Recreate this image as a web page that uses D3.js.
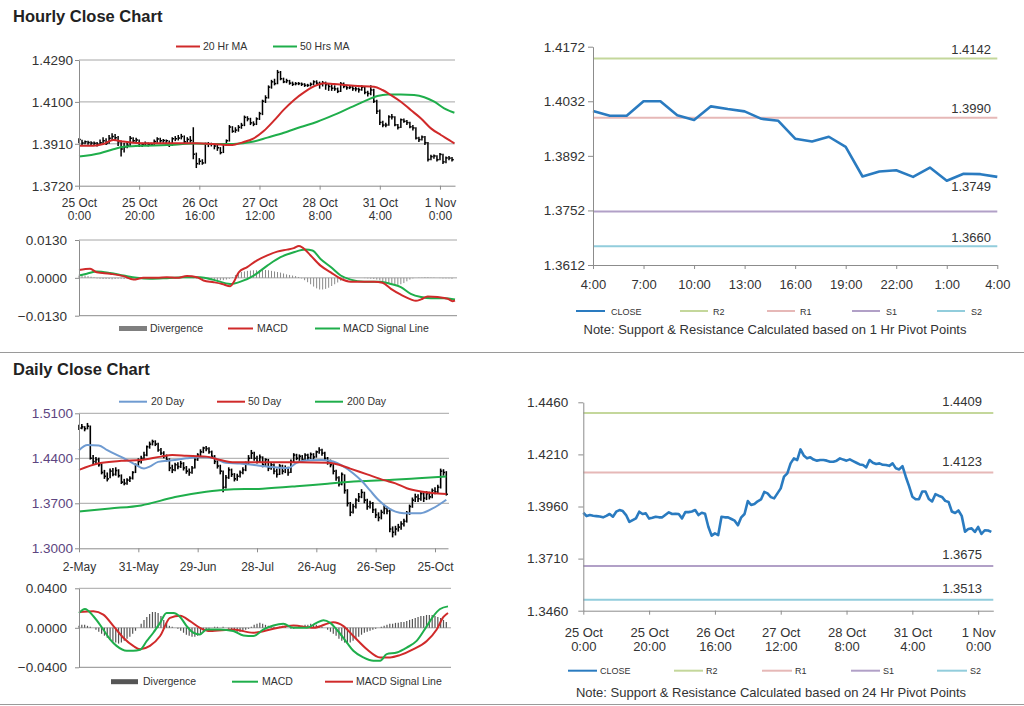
<!DOCTYPE html>
<html><head><meta charset="utf-8">
<script src="https://cdn.jsdelivr.net/npm/d3@7"></script>
<style>
body{margin:0;background:#fff;}
svg{display:block;}
</style></head><body>
<svg id="c" width="1024" height="706"></svg>
<script>
// ---------------- DATA ----------------
// Hourly bars, 25 Oct 0:00 .. 1 Nov 4:00 (index = trading hour)
const hourlyTickIdx = [0,20,40,60,80,100,120];
const hourlyTickLabels = [["25 Oct","0:00"],["25 Oct","20:00"],["26 Oct","16:00"],["27 Oct","12:00"],["28 Oct","8:00"],["31 Oct","4:00"],["1 Nov","0:00"]];
const hourlyClose = [1.3930,1.3914,1.3919,1.3916,1.3914,1.3912,1.3908,1.3915,1.3924,1.3911,
1.3935,1.3943,1.3938,1.3919,1.3886,1.3895,1.3903,1.3935,1.3924,1.3927,
1.3902,1.3906,1.3911,1.3908,1.3908,1.3920,1.3932,1.3924,1.3925,1.3924,
1.3903,1.3933,1.3933,1.3936,1.3943,1.3919,1.3930,1.3925,1.3863,1.3820,
1.3831,1.3823,1.3911,1.3908,1.3908,1.3900,1.3892,1.3870,1.3908,1.3924,
1.3986,1.3967,1.3972,1.3985,1.3994,1.4030,1.4023,1.4005,1.3999,1.4023,
1.4047,1.4103,1.4119,1.4167,1.4191,1.4183,1.4234,1.4205,1.4191,1.4196,
1.4185,1.4180,1.4183,1.4183,1.4180,1.4175,1.4175,1.4180,1.4191,1.4185,
1.4180,1.4186,1.4178,1.4170,1.4162,1.4159,1.4148,1.4183,1.4170,1.4164,
1.4167,1.4160,1.4159,1.4155,1.4167,1.4143,1.4138,1.4154,1.4103,1.4058,
1.4007,1.3995,1.3995,1.4032,1.4032,1.3996,1.3984,1.4019,1.4012,1.4006,
1.3987,1.3982,1.3936,1.3929,1.3941,1.3915,1.3839,1.3852,1.3855,1.3838,
1.3862,1.3828,1.3846,1.3845,1.3838];
const hourlyHigh = [1.3935,1.3928,1.3925,1.3924,1.3922,1.3920,1.3918,1.3930,1.3940,1.3935,
1.3950,1.3958,1.3955,1.3945,1.3925,1.3915,1.3920,1.3945,1.3940,1.3938,
1.3930,1.3915,1.3920,1.3916,1.3915,1.3930,1.3940,1.3938,1.3932,1.3930,
1.3925,1.3940,1.3945,1.3950,1.3955,1.3948,1.3940,1.3945,1.3985,1.3870,
1.3845,1.3840,1.3915,1.3918,1.3915,1.3912,1.3905,1.3895,1.3912,1.3930,
1.3995,1.3990,1.3985,1.3995,1.4005,1.4038,1.4035,1.4028,1.4012,1.4030,
1.4055,1.4110,1.4130,1.4175,1.4200,1.4205,1.4245,1.4240,1.4210,1.4205,
1.4200,1.4192,1.4190,1.4190,1.4188,1.4185,1.4182,1.4188,1.4198,1.4198,
1.4192,1.4195,1.4192,1.4185,1.4180,1.4175,1.4165,1.4190,1.4188,1.4178,
1.4175,1.4172,1.4168,1.4165,1.4175,1.4170,1.4150,1.4175,1.4160,1.4110,
1.4065,1.4015,1.4005,1.4040,1.4045,1.4035,1.4000,1.4025,1.4025,1.4018,
1.4010,1.3995,1.3985,1.3942,1.3948,1.3945,1.3918,1.3860,1.3862,1.3858,
1.3868,1.3865,1.3852,1.3855,1.3850];
const hourlyLow = [1.3912,1.3905,1.3908,1.3906,1.3902,1.3900,1.3898,1.3904,1.3908,1.3905,
1.3910,1.3928,1.3925,1.3900,1.3852,1.3870,1.3890,1.3900,1.3915,1.3912,
1.3895,1.3896,1.3900,1.3898,1.3900,1.3905,1.3915,1.3915,1.3915,1.3905,
1.3895,1.3900,1.3922,1.3925,1.3930,1.3912,1.3915,1.3915,1.3840,1.3800,
1.3815,1.3815,1.3820,1.3895,1.3898,1.3885,1.3878,1.3862,1.3868,1.3900,
1.3920,1.3960,1.3960,1.3965,1.3978,1.3990,1.4012,1.3995,1.3990,1.3995,
1.4018,1.4040,1.4095,1.4115,1.4160,1.4175,1.4180,1.4198,1.4185,1.4185,
1.4178,1.4172,1.4175,1.4176,1.4172,1.4168,1.4168,1.4170,1.4175,1.4178,
1.4160,1.4170,1.4155,1.4150,1.4150,1.4150,1.4140,1.4145,1.4162,1.4155,
1.4158,1.4150,1.4148,1.4142,1.4150,1.4135,1.4125,1.4130,1.4095,1.4045,
1.3995,1.3985,1.3985,1.3992,1.4020,1.3990,1.3975,1.3982,1.4005,1.3995,
1.3980,1.3970,1.3930,1.3918,1.3925,1.3905,1.3830,1.3835,1.3842,1.3830,
1.3835,1.3818,1.3822,1.3835,1.3830];
const hourlyMA20 = [[0,1.3901],[4.8,1.3901],[8.1,1.3909],[11.4,1.3927],[14.8,1.3920],[18.1,1.3915],[23.7,1.3912],[39.2,1.3912],[44.8,1.3909],[50.3,1.3904],[54.8,1.3918],[58.1,1.3935],[61.4,1.3968],[64.8,1.4015],[68.1,1.4065],[71.4,1.4108],[74.8,1.4143],[78.1,1.4170],[81.4,1.4185],[84.8,1.4181],[88.1,1.4177],[91.4,1.4173],[98.1,1.4169],[100.9,1.4154],[103.7,1.4131],[107,1.4101],[110.3,1.4063],[113.7,1.4025],[117,1.3980],[120.3,1.3950],[123.1,1.3927],[124.8,1.3912]];
const hourlyMA50 = [[0,1.3852],[7,1.3867],[11.4,1.3885],[14.8,1.3897],[20.3,1.3901],[29.2,1.3904],[38.1,1.3911],[44.8,1.3909],[51.4,1.3909],[58.1,1.3920],[62.6,1.3938],[68.1,1.3960],[73.7,1.3986],[79.2,1.4010],[84.8,1.4041],[90.3,1.4075],[95.9,1.4109],[99.2,1.4127],[102.6,1.4134],[107,1.4134],[111.4,1.4131],[114.8,1.4121],[118.1,1.4101],[121.4,1.4071],[124.8,1.4051]];
const hourlyPriceTicks = [1.3720,1.3910,1.4100,1.4290];
// Hourly MACD panel
const hourlyMacdTicks = [-0.0130,0.0000,0.0130];
const hourlyMacd = [[0,0.0027],[3.7,0.0031],[5.9,0.0019],[10.3,0.0014],[14.8,0.0006],[18.1,-0.0006],[21.4,0],[25.9,0],[29.2,0.0002],[32.6,0],[35.9,0.0006],[39.2,0.0002],[41.4,-0.0009],[44.8,-0.0015],[47.6,-0.0021],[50.3,-0.0029],[51.4,-0.0015],[53.1,0.0019],[55.9,0.0037],[59.2,0.0060],[62.6,0.0077],[65.9,0.0090],[69.2,0.0097],[71.4,0.0102],[73.1,0.0109],[74.2,0.0105],[77,0.0077],[80.3,0.0042],[83.7,0.0019],[87,-0.0003],[90.3,-0.0013],[98.1,-0.0013],[100.9,-0.0017],[103.7,-0.0038],[107,-0.0058],[110.3,-0.0074],[112,-0.0079],[113.7,-0.0074],[115.9,-0.0064],[119.2,-0.0066],[122.6,-0.0072],[124.2,-0.0080],[125,-0.0078]];
const hourlySignal = [[0,0.0008],[2.6,0.0014],[5.9,0.0022],[10.3,0.0017],[14.8,0.0008],[19.2,0],[23.7,-0.0003],[29.2,-0.0001],[34.8,0.0002],[40.3,0.0002],[44.8,-0.0007],[50.3,-0.0021],[53.7,-0.0013],[58.1,0.0008],[62.6,0.0042],[67,0.0071],[71.4,0.0088],[75.3,0.0097],[77.6,0.0094],[80.3,0.0065],[83.7,0.0037],[87,0.0008],[90.3,-0.0006],[94.8,-0.0013],[100.3,-0.0013],[103.7,-0.0021],[107,-0.0032],[110.3,-0.0055],[113.7,-0.0066],[117,-0.0070],[121.4,-0.0070],[125,-0.0074]];
const hourlyDivergence = [0.0008,0.0010,0.0008,0.0006,0.0004,0.0002,
-0.0002,-0.0003,-0.0004,-0.0004,-0.0004,-0.0005,-0.0004,-0.0003,-0.0003,-0.0004,-0.0004,-0.0003,-0.0002,-0.0002,-0.0001,
0,0,0.0001,0,0,0,0.0001,0.0001,0,0,0.0001,0.0001,0,0,0.0001,0.0001,0,-0.0001,-0.0002,-0.0003,-0.0004,-0.0004,-0.0005,-0.0006,-0.0007,
-0.0008,-0.0008,-0.0008,-0.0006,-0.0003,0.0002,0.0010,
0.0016,0.0020,0.0022,0.0024,0.0025,0.0026,0.0026,0.0027,0.0027,0.0027,0.0026,0.0024,0.0022,0.0020,0.0018,0.0015,0.0012,0.0010,0.0008,0.0006,0.0003,
-0.0002,-0.0008,-0.0015,-0.0022,-0.0030,-0.0036,-0.0040,-0.0040,-0.0038,-0.0034,-0.0028,-0.0022,-0.0016,-0.0010,-0.0006,-0.0003,-0.0001,
0,0,0,0,-0.0001,-0.0002,-0.0003,-0.0004,-0.0006,
-0.0008,-0.0012,-0.0016,-0.0020,-0.0023,-0.0024,-0.0024,-0.0022,-0.0018,-0.0012,-0.0006,-0.0002,0,
0.0001,0.0001,0.0002,0.0002,0.0001,0.0001,0,-0.0001,-0.0002,-0.0002,-0.0002,-0.0003];

// Last 24 hours (1 Hr pivots) — uses hourlyClose from index 100
const pivot1hStart = 100;
const pivot1hTicks = [1.3612,1.3752,1.3892,1.4032,1.4172];
const pivot1hTickLabels = ["4:00","7:00","10:00","13:00","16:00","19:00","22:00","1:00","4:00"];
const pivot1hNames = ["R2","R1","S1","S2"];
const pivot1hValues = [1.4142,1.3990,1.3749,1.3660];
// 24 Hr pivots
const pivot24Ticks = [1.3460,1.3710,1.3960,1.4210,1.4460];
const pivot24Names = ["R2","R1","S1","S2"];
const pivot24Values = [1.4409,1.4123,1.3675,1.3513];

// Daily bars, 2 May .. 1 Nov (index = trading day)
const dailyTickIdx = [0,21,42,63,84,105,126];
const dailyTickLabels = ["2-May","31-May","29-Jun","28-Jul","26-Aug","26-Sep","25-Oct"];
const dailyClose = [1.4870,1.4890,1.4860,1.4900,1.4400,1.4350,1.4380,1.4300,1.4180,1.4120,
1.4080,1.4200,1.4150,1.4210,1.4130,1.4030,1.4010,1.4060,1.4090,1.4180,
1.4300,1.4350,1.4400,1.4450,1.4580,1.4620,1.4660,1.4620,1.4530,1.4480,
1.4430,1.4380,1.4250,1.4220,1.4300,1.4270,1.4320,1.4250,1.4200,1.4180,
1.4250,1.4380,1.4450,1.4500,1.4560,1.4550,1.4500,1.4430,1.4350,1.4280,
1.4200,1.3950,1.4100,1.4220,1.4150,1.4080,1.4120,1.4180,1.4220,1.4320,
1.4400,1.4480,1.4400,1.4350,1.4420,1.4300,1.4380,1.4250,1.4300,1.4200,
1.4150,1.4280,1.4200,1.4250,1.4180,1.4350,1.4450,1.4400,1.4430,1.4380,
1.4450,1.4410,1.4460,1.4420,1.4500,1.4530,1.4480,1.4400,1.4350,1.4300,
1.4200,1.4100,1.4000,1.4150,1.3900,1.3700,1.3560,1.3650,1.3750,1.3800,
1.3870,1.3750,1.3650,1.3700,1.3600,1.3520,1.3480,1.3560,1.3620,1.3580,
1.3300,1.3250,1.3300,1.3330,1.3380,1.3420,1.3550,1.3650,1.3750,1.3800,
1.3770,1.3850,1.3780,1.3850,1.3800,1.3900,1.3880,1.3950,1.4200,1.4180,
1.3840];
const dailyHigh = [1.4920,1.4935,1.4900,1.4950,1.4910,1.4450,1.4420,1.4410,1.4320,1.4220,
1.4180,1.4240,1.4250,1.4260,1.4230,1.4150,1.4080,1.4090,1.4120,1.4200,
1.4320,1.4400,1.4440,1.4500,1.4600,1.4660,1.4690,1.4680,1.4640,1.4560,
1.4510,1.4460,1.4400,1.4300,1.4330,1.4340,1.4360,1.4340,1.4280,1.4240,
1.4280,1.4400,1.4480,1.4540,1.4580,1.4590,1.4570,1.4520,1.4450,1.4370,
1.4300,1.4210,1.4140,1.4260,1.4240,1.4170,1.4160,1.4210,1.4260,1.4350,
1.4450,1.4530,1.4500,1.4440,1.4460,1.4430,1.4400,1.4390,1.4340,1.4320,
1.4240,1.4310,1.4300,1.4290,1.4270,1.4380,1.4480,1.4470,1.4460,1.4450,
1.4480,1.4470,1.4490,1.4480,1.4520,1.4570,1.4550,1.4500,1.4420,1.4380,
1.4310,1.4220,1.4120,1.4180,1.4150,1.3920,1.3720,1.3690,1.3780,1.3860,
1.3920,1.3880,1.3770,1.3740,1.3720,1.3620,1.3560,1.3600,1.3680,1.3650,
1.3600,1.3340,1.3350,1.3380,1.3420,1.3460,1.3580,1.3680,1.3790,1.3850,
1.3840,1.3880,1.3870,1.3890,1.3880,1.3930,1.3950,1.3990,1.4240,1.4230,
1.4200];
const dailyLow = [1.4840,1.4850,1.4820,1.4850,1.4380,1.4300,1.4310,1.4270,1.4150,1.4080,
1.4040,1.4090,1.4120,1.4130,1.4100,1.4000,1.3980,1.3990,1.4030,1.4070,
1.4170,1.4280,1.4320,1.4380,1.4430,1.4550,1.4600,1.4590,1.4500,1.4450,
1.4400,1.4350,1.4200,1.4170,1.4200,1.4230,1.4250,1.4210,1.4160,1.4130,
1.4160,1.4240,1.4360,1.4430,1.4480,1.4510,1.4470,1.4400,1.4310,1.4240,
1.4150,1.3870,1.3930,1.4080,1.4110,1.4040,1.4050,1.4100,1.4150,1.4200,
1.4300,1.4390,1.4360,1.4320,1.4330,1.4260,1.4280,1.4200,1.4220,1.4150,
1.4100,1.4140,1.4150,1.4170,1.4130,1.4170,1.4330,1.4370,1.4360,1.4330,
1.4360,1.4370,1.4390,1.4380,1.4410,1.4470,1.4440,1.4370,1.4300,1.4260,
1.4150,1.4050,1.3960,1.3980,1.3850,1.3650,1.3500,1.3540,1.3620,1.3720,
1.3780,1.3700,1.3600,1.3620,1.3550,1.3470,1.3420,1.3450,1.3530,1.3530,
1.3250,1.3170,1.3200,1.3260,1.3290,1.3340,1.3400,1.3520,1.3630,1.3720,
1.3720,1.3740,1.3720,1.3750,1.3760,1.3780,1.3840,1.3860,1.3930,1.4130,
1.3820];
const dailyMA20 = [[0,1.4527],[3,1.4606],[7,1.4600],[10,1.4527],[13,1.4460],[16,1.4397],[20,1.4300],[23,1.4240],[25,1.4270],[28,1.4344],[33,1.4370],[38,1.4400],[43,1.4420],[48,1.4400],[52,1.4330],[57,1.4320],[62,1.4296],[67,1.4270],[74,1.4250],[77,1.4330],[81,1.4370],[86,1.4374],[90,1.4350],[93,1.4290],[97,1.4167],[100,1.4050],[103,1.3900],[106,1.3750],[109,1.3640],[112,1.3570],[115,1.3547],[121,1.3547],[125,1.3616],[130,1.3756]];
const dailyMA50 = [[0,1.4219],[7,1.4322],[15,1.4360],[22,1.4374],[29,1.4426],[33,1.4450],[38,1.4440],[45,1.4426],[50,1.4374],[55,1.4338],[66,1.4338],[78,1.4338],[88,1.4330],[92,1.4300],[96,1.4240],[102,1.4150],[108,1.4060],[112,1.4010],[116,1.3935],[121,1.3885],[125,1.3860],[130,1.3845]];
const dailyMA200 = [[0,1.3573],[11,1.3620],[22,1.3667],[34,1.3797],[45,1.3880],[52,1.3912],[65,1.3928],[77,1.3965],[88,1.4006],[99,1.4042],[111,1.4065],[120,1.4090],[130,1.4118]];
const dailyPriceTicks = [1.3000,1.3700,1.4400,1.5100];
const dailyMacdTicks = [-0.0400,0.0000,0.0400];
const dailyMacd = [[0,0.0150],[2.1,0.0190],[5.1,0.0117],[8.6,-0.0017],[11,-0.0117],[13.3,-0.0183],[16.9,-0.0233],[19.2,-0.0233],[21.6,-0.0223],[24,-0.0133],[26.3,-0.0050],[28.7,0.0050],[31,0.0150],[33.4,0.0150],[35.8,0.0110],[38.1,0.0017],[40.5,-0.0050],[42.8,-0.0067],[45.2,-0.0017],[49.9,-0.0017],[54.6,-0.0033],[58.2,-0.0077],[61.7,-0.0083],[65.3,-0.0017],[68.8,0.0023],[72.3,0.0040],[75.9,0],[80.6,0],[84.1,0.0050],[86.5,0.0077],[88.9,0.0050],[91.2,-0.0017],[94.8,-0.0150],[97.1,-0.0233],[100.7,-0.0300],[104.2,-0.0333],[106.6,-0.0333],[108.9,-0.0267],[112.5,-0.0250],[116,-0.0200],[119.5,-0.0133],[123.1,0.0017],[125.4,0.0117],[127.8,0.0190],[130.6,0.0217]];
const dailySignal = [[0,0.0160],[5.1,0.0167],[8.6,0.0133],[12.2,0.0017],[15.7,-0.0100],[19.2,-0.0183],[21.6,-0.0217],[25.1,-0.0183],[28.7,-0.0083],[32.2,0.0100],[35.8,0.0123],[39.3,0.0067],[42.8,0],[46.4,-0.0033],[54.6,-0.0017],[61.7,-0.0050],[68.8,-0.0010],[75.9,0.0023],[83,0],[90,0.0057],[93.6,0.0017],[97.1,-0.0083],[101.9,-0.0217],[106.6,-0.0300],[110.1,-0.0300],[113.6,-0.0277],[118.4,-0.0217],[123.1,-0.0133],[126.6,-0.0017],[129,0.0110],[130.6,0.0150]];
const dailyDivergence = [0.002,0.003,0.003,0.002,0.001,0,-0.002,
-0.004,-0.006,-0.008,-0.010,-0.012,-0.014,-0.015,-0.016,-0.015,-0.013,-0.011,-0.009,-0.006,-0.003,
0,0.004,0.008,0.011,0.014,0.016,0.016,0.015,0.012,0.008,0.005,
0.002,0.001,0,-0.001,-0.003,-0.005,
-0.007,-0.008,-0.009,-0.009,-0.008,-0.006,-0.004,-0.002,-0.001,
0,0.001,0.001,0,0.001,0,-0.001,-0.002,-0.003,-0.004,-0.004,-0.003,-0.002,-0.001,
0.001,0.003,0.004,0.005,0.004,0.003,0.002,0.001,0.001,0,0.001,0.002,0.001,0,-0.001,
-0.001,0,0.001,0.002,0.003,0.003,0.004,0.004,0.003,0.002,0.001,0,-0.002,-0.004,
-0.006,-0.008,-0.011,-0.013,-0.015,-0.016,-0.015,-0.013,-0.011,-0.009,-0.007,-0.005,-0.004,-0.003,-0.002,-0.001,0,0.001,0.002,
0.003,0.004,0.004,0.005,0.005,0.006,0.006,0.007,0.008,0.009,0.010,0.011,0.012,0.012,0.013,0.013,0.013,0.012,0.011,0.010,0.008,0.006];

// ---------------- DRAWING ----------------
const FONT = 'Arial, "Liberation Sans", sans-serif';
const C = {grid:"#a6a6a6", axis:"#8c8c8c", text:"#333333", red:"#d02a2a", green:"#1fae4b",
  blue:"#2a7bc0", lblue:"#6f9bd1", hist:"#8a8a8a", R2:"#c4d79b", R1:"#e6b8b7", S1:"#b1a0c7", S2:"#92cddc"};
const svg = d3.select("#c").style("font-family", FONT);

function styleAxis(g, size, color){
  g.attr("font-family", FONT).attr("font-size", size || 12);
  g.select(".domain").attr("stroke", C.axis);
  g.selectAll(".tick line").attr("stroke", C.axis);
  g.selectAll(".tick text").attr("fill", color || C.text);
}
function yAxis(x0, y, ticks, opts){
  const a = d3.axisLeft(y).tickValues(ticks).tickFormat(d3.format(".4f")).tickSize(opts.ts||4).tickPadding(opts.pad||2).tickSizeOuter(0);
  const g = svg.append("g").attr("transform", `translate(${x0},0)`).call(a);
  styleAxis(g, opts.fs || 13.5, opts.color);
  return g;
}
function xAxis(y0, x, tickIdx, labels, off, gap, fs){
  const a = d3.axisBottom(x).tickValues(tickIdx).tickFormat("").tickSize(4).tickSizeOuter(0);
  const g = svg.append("g").attr("transform", `translate(0,${y0})`).call(a);
  styleAxis(g, fs || 12);
  g.selectAll(".tick").append("text").attr("fill", C.text).attr("text-anchor","middle")
    .each(function(d,i){
      const lab = Array.isArray(labels[i]) ? labels[i] : [labels[i]];
      const t = d3.select(this);
      lab.forEach((s,k)=> t.append("tspan").attr("x",0).attr("y", off + k*gap).text(s));
    });
  return g;
}
function grid(y, ticks, x1, x2){
  svg.append("g").selectAll("line").data(ticks).join("line")
    .attr("x1", x1).attr("x2", x2).attr("y1", d=>y(d)).attr("y2", d=>y(d))
    .attr("stroke", C.grid).attr("stroke-width", 1);
}
function title(txt, x, y){
  svg.append("text").attr("x",x).attr("y",y).attr("font-size",16.5).attr("font-weight","bold").attr("fill","#222").text(txt);
}
function legendLine(items, y, size){
  items.forEach(it=>{
    if(it.bar){
      svg.append("rect").attr("x",it.x1).attr("y",y-2.5).attr("width",it.x2-it.x1).attr("height",5).attr("fill",it.color);
    } else {
      svg.append("line").attr("x1",it.x1).attr("x2",it.x2).attr("y1",y).attr("y2",y).attr("stroke",it.color).attr("stroke-width",it.w||2);
    }
    svg.append("text").attr("x",it.tx).attr("y",y+3.5).attr("font-size",size).attr("fill",C.text).text(it.label);
  });
}
function ohlc(data, x, y, sw, tick){
  const g = svg.append("g").attr("stroke","#000").attr("stroke-width",sw);
  data.forEach(d=>{
    g.append("line").attr("x1",x(d.i)).attr("x2",x(d.i)).attr("y1",y(d.h)).attr("y2",y(d.l));
    g.append("line").attr("x1",x(d.i)).attr("x2",x(d.i)+tick).attr("y1",y(d.c)).attr("y2",y(d.c));
  });
}
function pathLine(pts, x, y, color, w){
  svg.append("path").datum(pts).attr("fill","none").attr("stroke",color).attr("stroke-width",w)
    .attr("stroke-linejoin","round").attr("d", d3.line().x(d=>x(d[0])).y(d=>y(d[1])).curve(d3.curveMonotoneX));
}

// ===== Hourly price panel =====
title("Hourly Close Chart", 13, 22);
const xH = d3.scaleLinear().domain([0,125]).range([79,455]);
const yH = d3.scaleLinear().domain([1.3720,1.4290]).range([185.7,60]);
grid(yH, hourlyPriceTicks.slice(1), 79, 455);
legendLine([{x1:176,x2:200,tx:203,label:"20 Hr MA",color:C.red},{x1:273,x2:297,tx:300,label:"50 Hrs MA",color:C.green}], 46.5, 10.5);
ohlc(hourlyClose.map((c,i)=>({i, c, h:hourlyHigh[i], l:hourlyLow[i]})), xH, yH, 1.5, 1.8);
pathLine(hourlyMA50, xH, yH, C.green, 2);
pathLine(hourlyMA20, xH, yH, C.red, 2);
yAxis(79, yH, hourlyPriceTicks, {ts:4,pad:2});
xAxis(185.7, xH, hourlyTickIdx, hourlyTickLabels, 21, 13.5);

// ===== Hourly MACD panel =====
const yHM = d3.scaleLinear().domain([-0.0130,0.0130]).range([315.7,240]);
grid(yHM, [0,0.0130], 79, 457);
svg.append("g").selectAll("line").data(hourlyDivergence).join("line")
  .attr("x1",(d,i)=>xH(i)).attr("x2",(d,i)=>xH(i)).attr("y1",yHM(0)).attr("y2",d=>yHM(d))
  .attr("stroke",C.hist).attr("stroke-width",1);
pathLine(hourlySignal, xH, yHM, C.green, 2);
pathLine(hourlyMacd, xH, yHM, C.red, 2);
yAxis(79, yHM, hourlyMacdTicks, {ts:4,pad:8});
svg.append("line").attr("x1",79).attr("x2",457).attr("y1",yHM(-0.0130)).attr("y2",yHM(-0.0130)).attr("stroke",C.axis);
legendLine([{x1:119,x2:147,tx:150,label:"Divergence",color:"#7f7f7f",bar:true},
  {x1:228,x2:253,tx:257,label:"MACD",color:C.red},
  {x1:315,x2:340,tx:343,label:"MACD Signal Line",color:C.green}], 328.5, 10.5);

// ===== 1 Hr pivot panel =====
const last24 = hourlyClose.slice(pivot1hStart);
const xP = d3.scaleLinear().domain([0,24]).range([593,997.3]);
const yP = d3.scaleLinear().domain([1.3612,1.4172]).range([265,46.7]);
const pivot1hLabelOffset = [9, 9, 25, 9];
pivot1hValues.forEach((v,k)=>{
  svg.append("line").attr("x1",xP(0)).attr("x2",xP(24)).attr("y1",yP(v)).attr("y2",yP(v))
    .attr("stroke",C[pivot1hNames[k]]).attr("stroke-width",2);
  svg.append("text").attr("x",991).attr("y",yP(v)-pivot1hLabelOffset[k]+4.5).attr("text-anchor","end")
    .attr("font-size",13).attr("fill",C.text).text(d3.format(".4f")(v));
});
svg.append("path").datum(last24).attr("fill","none").attr("stroke",C.blue).attr("stroke-width",2.6)
  .attr("stroke-linejoin","round").attr("d", d3.line().x((d,i)=>xP(i)).y(d=>yP(d)));
yAxis(593, yP, pivot1hTicks, {ts:5,pad:3});
xAxis(265, xP, d3.range(0,25,3), pivot1hTickLabels, 23.5, 14, 13);
legendLine([{x1:576,x2:605,tx:611,label:"CLOSE",color:C.blue},
  {x1:680,x2:708,tx:713,label:"R2",color:C.R2},
  {x1:767,x2:795,tx:800,label:"R1",color:C.R1},
  {x1:852,x2:880,tx:886,label:"S1",color:C.S1},
  {x1:937,x2:965,tx:971,label:"S2",color:C.S2}], 311, 9);
svg.append("text").attr("x",775).attr("y",333.5).attr("text-anchor","middle").attr("font-size",13).attr("fill",C.text)
  .text("Note: Support & Resistance Calculated based on 1 Hr Pivot Points");

// separators
svg.append("line").attr("x1",0).attr("x2",1024).attr("y1",352.5).attr("y2",352.5).attr("stroke","#9a9a9a");
svg.append("line").attr("x1",0).attr("x2",1024).attr("y1",704.5).attr("y2",704.5).attr("stroke","#9a9a9a");

// ===== Daily price panel =====
title("Daily Close Chart", 13, 375);
const xD = d3.scaleLinear().domain([0,130.6]).range([79,448]);
const yD = d3.scaleLinear().domain([1.3000,1.5100]).range([548.3,413.3]);
grid(yD, dailyPriceTicks.slice(1), 79, 449);
legendLine([{x1:119,x2:147,tx:151,label:"20 Day",color:C.lblue},
  {x1:217,x2:245,tx:248,label:"50 Day",color:C.red},
  {x1:315,x2:343,tx:347,label:"200 Day",color:C.green}], 401.7, 10.5);
ohlc(dailyClose.map((c,i)=>({i, c, h:dailyHigh[i], l:dailyLow[i]})), xD, yD, 1.6, 1.6);
pathLine(dailyMA200, xD, yD, C.green, 2);
pathLine(dailyMA20, xD, yD, C.lblue, 2);
pathLine(dailyMA50, xD, yD, C.red, 2);
yAxis(79, yD, dailyPriceTicks, {ts:4,pad:2,color:"#5d4580"});
xAxis(548.3, xD, dailyTickIdx, dailyTickLabels, 22.5, 14);

// ===== Daily MACD panel =====
const yDM = d3.scaleLinear().domain([-0.0400,0.0400]).range([667.3,588.3]);
grid(yDM, [0,0.0400], 79, 451);
svg.append("g").selectAll("line").data(dailyDivergence).join("line")
  .attr("x1",(d,i)=>xD(i)).attr("x2",(d,i)=>xD(i)).attr("y1",yDM(0)).attr("y2",d=>yDM(d))
  .attr("stroke","#555").attr("stroke-width",1.2);
pathLine(dailySignal, xD, yDM, C.red, 2);
pathLine(dailyMacd, xD, yDM, C.green, 2);
yAxis(79, yDM, dailyMacdTicks, {ts:4,pad:8});
svg.append("line").attr("x1",79).attr("x2",451).attr("y1",yDM(-0.04)).attr("y2",yDM(-0.04)).attr("stroke",C.axis);
legendLine([{x1:111,x2:138,tx:143,label:"Divergence",color:"#555",bar:true},
  {x1:232,x2:258,tx:262,label:"MACD",color:C.green},
  {x1:325,x2:353,tx:356,label:"MACD Signal Line",color:C.red}], 681.7, 10.5);

// ===== 24 Hr pivot panel =====
const xF = d3.scaleLinear().domain([0,124.6]).range([583.3,993.3]);
const yF = d3.scaleLinear().domain([1.3460,1.4460]).range([610.7,402.3]);
pivot24Values.forEach((v,k)=>{
  svg.append("line").attr("x1",583.3).attr("x2",993.3).attr("y1",yF(v)).attr("y2",yF(v))
    .attr("stroke",C[pivot24Names[k]]).attr("stroke-width",2);
  svg.append("text").attr("x",982).attr("y",yF(v)-6.5).attr("text-anchor","end")
    .attr("font-size",13).attr("fill",C.text).text(d3.format(".4f")(v));
});
svg.append("path").datum(hourlyClose).attr("fill","none").attr("stroke",C.blue).attr("stroke-width",2.6)
  .attr("stroke-linejoin","round").attr("d", d3.line().x((d,i)=>xF(i)).y(d=>yF(d)));
yAxis(583.3, yF, pivot24Ticks, {ts:5,pad:10});
xAxis(610.7, xF, hourlyTickIdx, hourlyTickLabels, 26, 14.5, 13);
legendLine([{x1:568,x2:597,tx:600,label:"CLOSE",color:C.blue},
  {x1:674,x2:703,tx:706,label:"R2",color:C.R2},
  {x1:762,x2:792,tx:795,label:"R1",color:C.R1},
  {x1:851,x2:880,tx:883,label:"S1",color:C.S1},
  {x1:937,x2:967,tx:970,label:"S2",color:C.S2}], 670.7, 9);
svg.append("text").attr("x",771).attr("y",697).attr("text-anchor","middle").attr("font-size",13).attr("fill",C.text)
  .text("Note: Support & Resistance Calculated based on 24 Hr Pivot Points");
</script>
</body></html>
